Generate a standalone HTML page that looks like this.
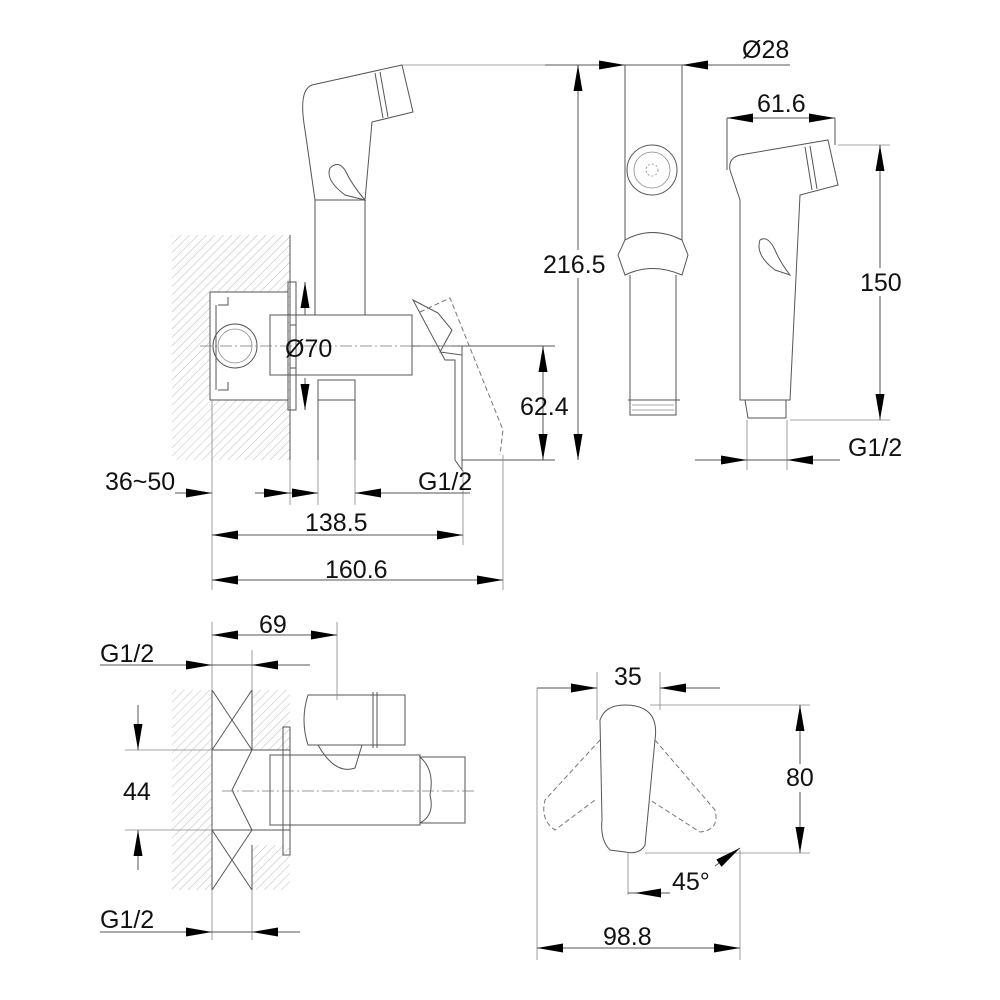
<!DOCTYPE html>
<html><head><meta charset="utf-8"><style>
html,body{margin:0;padding:0;background:#fff}
svg{display:block}
text{font-family:"Liberation Sans",sans-serif;font-size:25px;fill:#111}
.l{stroke:#555;stroke-width:1;fill:none}
.t{stroke:#888;stroke-width:.8;fill:none}
.c{stroke:#777;stroke-width:.8;fill:none;stroke-dasharray:12 3 2 3}
.d{stroke:#777;stroke-width:1;fill:none;stroke-dasharray:5 3}
.h{fill:url(#hat);stroke:none}
</style></head><body>
<svg width="1000" height="1000" viewBox="0 0 1000 1000" xmlns="http://www.w3.org/2000/svg">
<defs>
<pattern id="hat" width="6" height="6" patternUnits="userSpaceOnUse" patternTransform="rotate(45)">
<line x1="0" y1="0" x2="0" y2="6" stroke="#aaa" stroke-width="0.8"/></pattern>
<marker id="a" viewBox="0 0 26 9" refX="26" refY="4.5" markerWidth="26" markerHeight="9" markerUnits="userSpaceOnUse" orient="auto-start-reverse"><path d="M0,0 L26,4.5 L0,9 z" fill="#000"/></marker>
</defs>

<rect class="h" x="172" y="235" width="118" height="225"/>
<rect x="210" y="292" width="78" height="108" fill="#fff"/>
<path class="l" d="M210 292 H288 M210 400 H288 M210 292 V400 M290 235 V460"/>
<rect class="l" x="288" y="282" width="8" height="128"/>
<path class="l" d="M218 305 h10 v-8 M218 390 h10 v-8 M216 305 V390"/>
<circle class="l" cx="235" cy="346" r="22"/><circle class="t" cx="235" cy="346" r="17"/>
<path class="l" d="M270 315 H412 V375 H270 Z"/>
<path class="l" d="M296 325 h-6 M296 368 h-6"/>
<path class="l" d="M315 315 V200 L305 130 Q298 90 312 85 L402 65 L413 112 L372 122 L365 200 V315"/>
<path class="l" d="M375 73 L383 118 M380 72 L388 117"/>
<path class="l" d="M315 200 H365"/>
<path class="l" d="M330 168 Q325 180 345 195 L365 200 Q352 185 345 170 Q338 160 330 168"/>
<rect class="l" x="318" y="380" width="37" height="20"/>
<path class="l" d="M318 400 V460 M355 400 V460"/>
<path class="l" d="M413 300 L438 313 L452 330 L440 352 L462 355 V470 L455 460 V360 L445 360 Z"/>
<path class="d" d="M420 312 L450 298 L503 430 L500 455"/>
<path class="l" d="M412 346 H462 V462"/>
<path class="c" d="M200 346 H470"/>
<path class="l" d="M462 346 H555 M462 460 H555"/>
<line class="l" x1="305" y1="282" x2="305" y2="315" marker-start="url(#a)"/>
<line class="l" x1="305" y1="378" x2="305" y2="410" marker-end="url(#a)"/>
<text x="285" y="357">Ø70</text>
<path class="t" d="M212 400 V590 M290 460 V505 M318 460 V505 M355 460 V505 M463 470 V545 M503 455 V590"/>
<line class="l" x1="175" y1="493" x2="212" y2="493" marker-end="url(#a)"/>
<line class="l" x1="255" y1="493" x2="290" y2="493" marker-end="url(#a)"/>
<line class="l" x1="290" y1="493" x2="318" y2="493" marker-end="url(#a)"/>
<line class="l" x1="470" y1="493" x2="355" y2="493" marker-end="url(#a)"/>
<text x="105" y="490">36~50</text><text x="418" y="490">G1/2</text>
<line class="l" x1="212" y1="535" x2="463" y2="535" marker-start="url(#a)" marker-end="url(#a)"/>
<text x="305" y="531">138.5</text>
<line class="l" x1="212" y1="580" x2="503" y2="580" marker-start="url(#a)" marker-end="url(#a)"/>
<text x="325" y="578">160.6</text>
<line class="l" x1="543" y1="346" x2="543" y2="460" marker-start="url(#a)" marker-end="url(#a)"/>
<text x="520" y="415">62.4</text>
<line class="l" x1="578" y1="65" x2="578" y2="460" marker-start="url(#a)" marker-end="url(#a)"/>
<path class="t" d="M402 65 H600"/>
<rect x="540" y="250" width="70" height="28" fill="#fff"/>
<text x="543" y="273">216.5</text>

<path class="l" d="M625 65 V240 M682 65 V240"/>
<path class="l" d="M545 65 H790"/>
<line class="l" x1="580" y1="65" x2="625" y2="65" marker-end="url(#a)"/>
<line class="l" x1="725" y1="65" x2="682" y2="65" marker-end="url(#a)"/>
<text x="742" y="58">Ø28</text>
<circle class="l" cx="652" cy="170" r="25"/><circle class="t" cx="652" cy="170" r="18"/>
<circle class="t" cx="652" cy="170" r="6" stroke-dasharray="2 2"/>
<path class="l" d="M625 240 Q652 225 682 240 L688 255 L682 275 Q652 262 625 275 L618 255 Z"/>
<path class="l" d="M630 275 V400 M676 275 V400 M628 400 H680 M630 400 V415 H676 V400"/>
<path class="t" d="M632 405 H674 M632 410 H674"/>
<path class="l" d="M727 118 V170 M835 118 V145"/>
<line class="l" x1="727" y1="118" x2="835" y2="118" marker-start="url(#a)" marker-end="url(#a)"/>
<text x="757" y="112">61.6</text>
<path class="l" d="M740 400 V200 L730 170 Q728 158 740 155 L828 140 L838 185 L800 195 L790 400 Z"/>
<path class="l" d="M805 147 L812 190 M810 146 L817 189"/>
<path class="l" d="M760 240 Q755 255 775 270 L790 275 Q780 262 775 250 Q768 235 760 240"/>
<path class="l" d="M745 400 H786 V418 H748 Z"/>
<path class="t" d="M838 145 H890 M790 420 H890"/>
<line class="l" x1="880" y1="145" x2="880" y2="420" marker-start="url(#a)" marker-end="url(#a)"/>
<rect x="858" y="268" width="44" height="28" fill="#fff"/>
<text x="860" y="291">150</text>
<path class="t" d="M747 420 V470 M787 420 V470"/>
<line class="l" x1="695" y1="460" x2="747" y2="460" marker-end="url(#a)"/>
<line class="l" x1="840" y1="460" x2="787" y2="460" marker-end="url(#a)"/>
<line class="l" x1="747" y1="460" x2="787" y2="460"/>
<text x="848" y="456">G1/2</text>

<rect class="h" x="172" y="690" width="40" height="200"/>
<rect class="h" x="252" y="690" width="38" height="60"/>
<rect class="h" x="252" y="845" width="38" height="45"/>
<path class="l" d="M212 690 V890 M252 690 V750 M252 845 V890 M212 690 L252 750 M252 690 L212 750 M212 830 L252 890 M252 830 L212 890 M212 750 H290 M212 830 H290"/>
<rect class="l" x="283" y="727" width="7" height="128"/>
<path class="l" d="M252 750 L232 790 L252 830"/>
<rect class="l" x="270" y="755" width="150" height="70"/>
<path class="l" d="M420 757 Q435 770 430 795 Q435 815 420 823 H465 V757 Z"/>
<path class="l" d="M308 695 H405 V745 H308 Q300 720 308 695 Z M373 692 V748 M377 692 V748"/>
<path class="l" d="M318 745 Q335 775 355 768 L362 745"/>
<path class="c" d="M222 791 H475"/>
<path class="t" d="M212 622 V690 M252 650 V690 M337 622 V700"/>
<line class="l" x1="212" y1="635" x2="337" y2="635" marker-start="url(#a)" marker-end="url(#a)"/>
<text x="259" y="633">69</text>
<path class="l" d="M100 665 H310"/>
<line class="l" x1="180" y1="665" x2="212" y2="665" marker-end="url(#a)"/>
<line class="l" x1="285" y1="665" x2="252" y2="665" marker-end="url(#a)"/>
<text x="100" y="662">G1/2</text>
<path class="t" d="M212 890 V940 M252 890 V940 M125 750 H212 M125 830 H212"/>
<line class="l" x1="138" y1="705" x2="138" y2="750" marker-end="url(#a)"/>
<line class="l" x1="138" y1="870" x2="138" y2="830" marker-end="url(#a)"/>
<text x="123" y="800">44</text>
<path class="l" d="M100 932 H300"/>
<line class="l" x1="180" y1="932" x2="212" y2="932" marker-end="url(#a)"/>
<line class="l" x1="285" y1="932" x2="252" y2="932" marker-end="url(#a)"/>
<text x="100" y="928">G1/2</text>

<path class="l" d="M600 720 Q605 705 625 705 Q660 705 655 740 L645 845 Q640 855 625 852 L610 850 Q600 840 602 820 Z"/>
<path class="d" d="M600 740 L545 800 Q540 820 555 830 L595 800"/>
<path class="d" d="M655 740 L715 810 Q720 830 700 832 L650 800"/>
<path class="t" d="M537 688 V960 M597 672 V720 M660 672 V710 M650 705 H810 M645 853 H810 M740 850 V960 M628 852 V895"/>
<line class="l" x1="537" y1="688" x2="597" y2="688" marker-end="url(#a)"/>
<line class="l" x1="720" y1="688" x2="660" y2="688" marker-end="url(#a)"/>
<text x="614" y="685">35</text>
<rect x="783" y="764" width="32" height="28" fill="#fff"/>
<line class="l" x1="800" y1="705" x2="800" y2="764" marker-start="url(#a)"/>
<line class="l" x1="800" y1="792" x2="800" y2="853" marker-end="url(#a)"/>
<text x="786" y="786">80</text>
<line class="l" x1="537" y1="948" x2="740" y2="948" marker-start="url(#a)" marker-end="url(#a)"/>
<text x="603" y="945">98.8</text>
<path class="l" d="M628 893 H670"/>
<line class="l" x1="715" y1="866" x2="740" y2="848" marker-end="url(#a)"/>
<line class="l" x1="670" y1="893" x2="635" y2="893" marker-end="url(#a)"/>
<text x="672" y="890">45°</text>
</svg>
</body></html>
